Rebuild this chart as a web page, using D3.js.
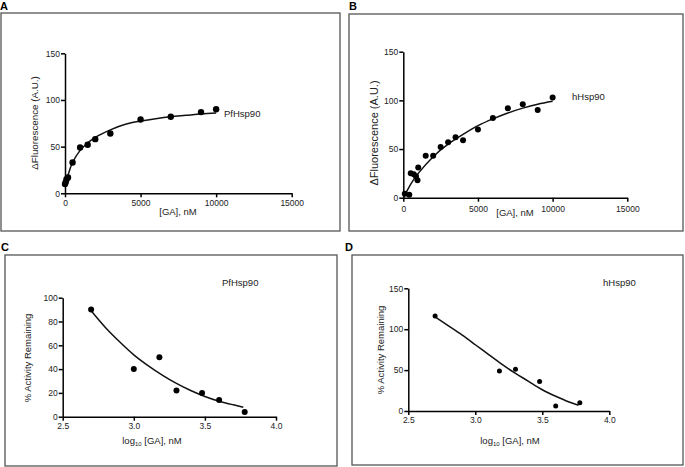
<!DOCTYPE html>
<html><head><meta charset="utf-8">
<script src="https://cdn.jsdelivr.net/npm/d3@7"></script>
<style>
body{margin:0;background:#fff;}
svg{display:block;font-family:"Liberation Sans",Arial,sans-serif;}
</style></head>
<body>
<svg id="c" width="685" height="467"></svg>
<script>
// ---- Data ----
// Panel A: PfHsp90 binding
const aX = [0, 50, 100, 200, 500, 1000, 1500, 2000, 3000, 5000, 7000, 9000, 10000];
const aY = [10, 12, 15, 17, 33, 49, 52, 58, 64, 79, 82, 87, 90];
const aFitX = [0, 250, 500, 1000, 1500, 2000, 3000, 4000, 5000, 6000, 7000, 8000, 9000, 10000];
const aFitY = [8, 22, 33, 46, 54, 60, 68, 74, 77.5, 80, 82, 83.5, 85, 86];
// Panel B: hHsp90 binding
const bX = [100, 400, 500, 700, 850, 950, 1000, 1500, 2000, 2500, 3000, 3500, 4000, 5000, 6000, 7000, 8000, 9000, 10000];
const bY = [4, 3, 25, 24, 22, 18, 31, 43, 43, 52, 57, 62, 59, 70, 82, 92, 96, 90, 103];
const bFitX = [0, 500, 1000, 2000, 3000, 4000, 5000, 6000, 7000, 8000, 9000, 10000];
const bFitY = [0, 14, 25, 42, 55, 65, 74, 81, 87, 92, 96, 99];
// Panel C: PfHsp90 activity
const cX = [2.70, 3.00, 3.18, 3.30, 3.48, 3.60, 3.78];
const cY = [90, 40, 50, 22, 20, 14, 4];
const cFitX = [2.70, 2.8, 2.9, 3.0, 3.1, 3.2, 3.3, 3.4, 3.5, 3.6, 3.7, 3.77];
const cFitY = [89, 75, 63, 52, 43, 35, 28, 22, 17, 13, 10, 8];
// Panel D: hHsp90 activity
const dX = [2.70, 3.18, 3.30, 3.48, 3.60, 3.78];
const dY = [116, 49, 51, 36, 6, 10];
const dFitX = [2.70, 2.8, 2.9, 3.0, 3.1, 3.2, 3.3, 3.4, 3.5, 3.6, 3.7, 3.77];
const dFitY = [115, 104, 93, 81, 69, 57, 46, 36, 26, 18, 11, 7];
// Tick labels
const concTicks = [0, 5000, 10000, 15000];
const fluoTicks = [0, 50, 100, 150];
const logTicks = [2.5, 3.0, 3.5, 4.0];
const cTicksY = [0, 20, 40, 60, 80, 100];
const dTicksY = [0, 50, 100, 150];

const svg = d3.select("#c");

function panel(o){
  svg.append("rect").attr("x",o.frame[0]).attr("y",o.frame[1])
    .attr("width",o.frame[2]-o.frame[0]).attr("height",o.frame[3]-o.frame[1])
    .attr("fill","none").attr("stroke","#555").attr("stroke-width",1.3);
  svg.append("text").attr("x",o.letter[0]).attr("y",o.letter[1])
    .attr("font-size",11).attr("font-weight","bold").text(o.letterText);
  const x = d3.scaleLinear().domain(o.xd).range(o.xr);
  const y = d3.scaleLinear().domain(o.yd).range(o.yr);
  const gx = svg.append("g").attr("transform",`translate(0,${o.yr[0]})`)
    .call(d3.axisBottom(x).tickValues(o.xt).tickSize(4).tickSizeOuter(0).tickFormat(o.xf));
  const gy = svg.append("g").attr("transform",`translate(${o.xr[0]},0)`)
    .call(d3.axisLeft(y).tickValues(o.yt).tickSize(4).tickSizeOuter(0).tickFormat(d3.format("d")));
  [gx,gy].forEach(g=>{
    g.selectAll("path,line").attr("stroke","#000").attr("stroke-width",1.5);
    g.selectAll("text").attr("font-size",8.5).attr("fill","#222")
      .attr("font-family","\"Liberation Sans\",Arial,sans-serif");
  });
  gy.selectAll("text").attr("x",-5);
  gx.selectAll("text").attr("y",o.xtDy);
  const line = d3.line().x(d=>x(d[0])).y(d=>y(d[1])).curve(d3.curveNatural);
  svg.append("path").datum(o.fx.map((v,i)=>[v,o.fy[i]]))
    .attr("d",line).attr("fill","none").attr("stroke","#111").attr("stroke-width",1.5);
  svg.append("g").selectAll("circle").data(o.px.map((v,i)=>[v,o.py[i]])).join("circle")
    .attr("cx",d=>x(d[0])).attr("cy",d=>y(d[1])).attr("r",o.r).attr("fill","#000");
  svg.append("text").attr("x",o.label[0]).attr("y",o.label[1]).attr("font-size",9.5)
    .attr("fill","#222").text(o.labelText);
  const xt = svg.append("text").attr("x",o.xTitle[0]).attr("y",o.xTitle[1])
    .attr("text-anchor","middle").attr("font-size",9.5).attr("fill","#222");
  if(o.logTitle){
    xt.append("tspan").text("log");
    xt.append("tspan").attr("font-size",6).attr("dy",2).text("10");
    xt.append("tspan").attr("dy",-2).text(" [GA],  nM");
  } else xt.text(o.xTitleText);
  svg.append("text").attr("transform",`translate(${o.yTitle[0]},${o.yTitle[1]}) rotate(-90)`)
    .attr("text-anchor","middle").attr("font-size",o.yTitleSize).attr("fill","#222").text(o.yTitleText);
}

panel({frame:[1,13,340,231], letter:[0,10], letterText:"A",
  xd:[0,15000], xr:[65,291.7], yd:[0,150], yr:[193.3,53.3], xt:concTicks, yt:fluoTicks,
  xf:d3.format("d"), xtDy:7, px:aX, py:aY, fx:aFitX, fy:aFitY, r:3.2,
  label:[224,117], labelText:"PfHsp90", xTitle:[178,215], xTitleText:"[GA], nM",
  yTitle:[38,123], yTitleText:"\u0394Fluorescence (A.U.)", yTitleSize:9.8});
panel({frame:[349,14,683,231], letter:[349,10], letterText:"B",
  xd:[0,15000], xr:[403.3,627.3], yd:[0,150], yr:[197.7,51.7], xt:concTicks, yt:fluoTicks,
  xf:d3.format("d"), xtDy:8, px:bX, py:bY, fx:bFitX, fy:bFitY, r:3,
  label:[572,100], labelText:"hHsp90", xTitle:[515,216], xTitleText:"[GA], nM",
  yTitle:[378,133], yTitleText:"\u0394Fluorescence (A.U.)", yTitleSize:11});
panel({frame:[5,255,337,466], letter:[1,251], letterText:"C",
  xd:[2.5,4.0], xr:[62.7,276], yd:[0,100], yr:[416.7,297.7], xt:logTicks, yt:cTicksY,
  xf:d3.format(".1f"), xtDy:6, px:cX, py:cY, fx:cFitX, fy:cFitY, r:3,
  label:[222,286], labelText:"PfHsp90", xTitle:[152,444], logTitle:true,
  yTitle:[31,358], yTitleText:"% Activity Remaining", yTitleSize:9.5});
panel({frame:[352,255,683,465], letter:[345,251], letterText:"D",
  xd:[2.5,4.0], xr:[408.3,609.3], yd:[0,150], yr:[411,288.3], xt:logTicks, yt:dTicksY,
  xf:d3.format(".1f"), xtDy:6, px:dX, py:dY, fx:dFitX, fy:dFitY, r:2.5,
  label:[603,286], labelText:"hHsp90", xTitle:[510,444], logTitle:true,
  yTitle:[384,350], yTitleText:"% Activity Remaining", yTitleSize:9.5});
</script>
</body></html>
